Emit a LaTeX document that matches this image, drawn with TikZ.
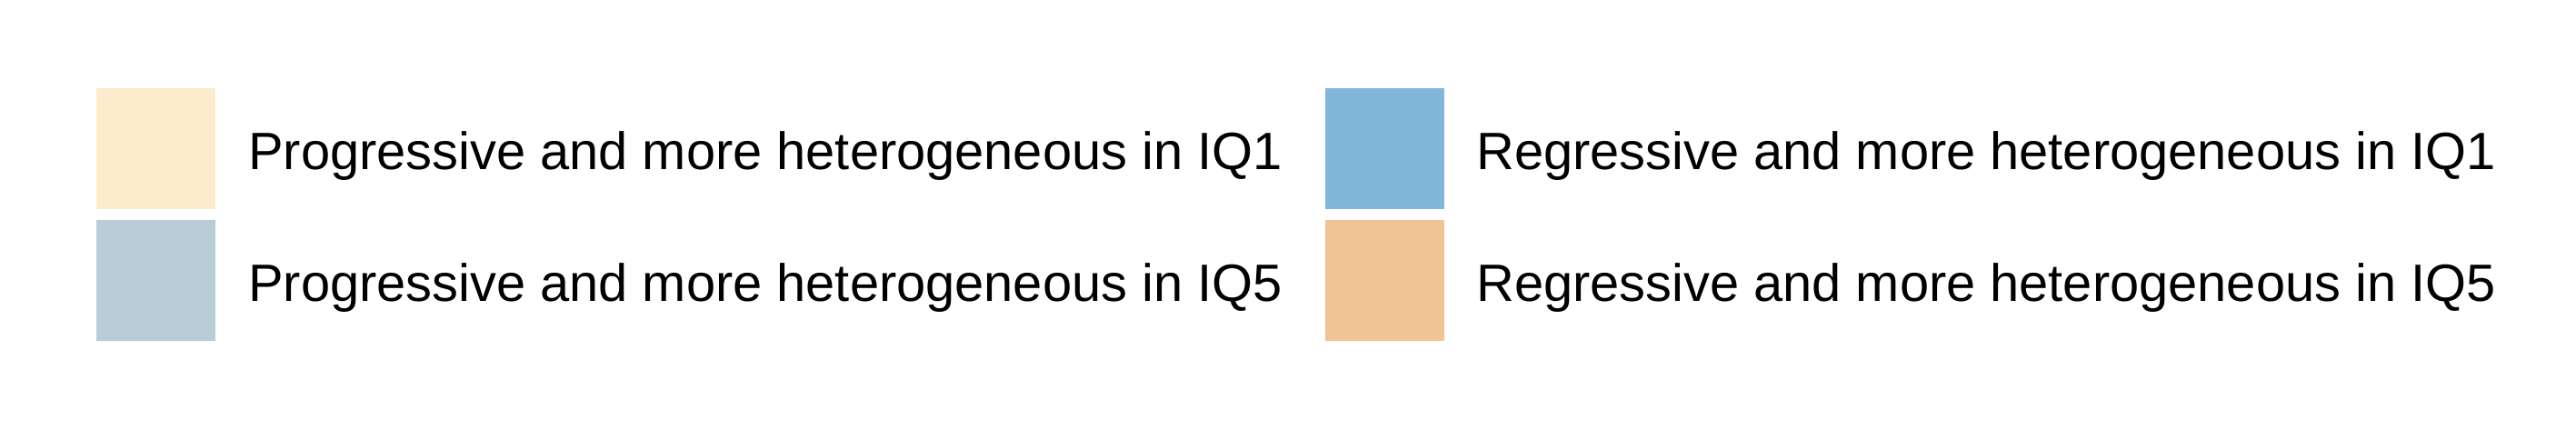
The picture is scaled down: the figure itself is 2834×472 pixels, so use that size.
\documentclass[tikz,border=0pt]{standalone}
\usepackage{fontspec}
\setmainfont{Liberation Sans}
\usepackage{tikz}

\definecolor{progone}{RGB}{253,236,204}
\definecolor{progfive}{RGB}{184,205,216}
\definecolor{regone}{RGB}{128,183,219}
\definecolor{regfive}{RGB}{240,196,148}

\begin{document}
\begin{tikzpicture}[x=0.25pt, y=-0.25pt]
    \tikzstyle{swatch}=[draw=none, inner sep=0pt, minimum width=32.75pt,
                        minimum height=33.25pt]
    \tikzstyle{legtext}=[inner sep=0pt, anchor=base west, text=black,
                         font=\fontsize{14.45}{17}\selectfont]

    \useasboundingbox (0,0) rectangle (2834,472);

    \node[swatch, fill=progone]  (pq1) at (171.5,163.5)  {};
    \node[swatch, fill=progfive] (pq5) at (171.5,308.5)  {};
    \node[swatch, fill=regone]   (rq1) at (1523.8,163.5) {};
    \node[swatch, fill=regfive]  (rq5) at (1523.8,308.5) {};

    \node[legtext] (tpq1) at (272.5,186.6)  {Progressive and more heterogeneous in IQ1};
    \node[legtext] (tpq5) at (272.5,331.8)  {Progressive and more heterogeneous in IQ5};
    \node[legtext] (trq1) at (1623.5,186.6) {Regressive and more heterogeneous in IQ1};
    \node[legtext] (trq5) at (1623.5,331.8) {Regressive and more heterogeneous in IQ5};
\end{tikzpicture}
\end{document}
